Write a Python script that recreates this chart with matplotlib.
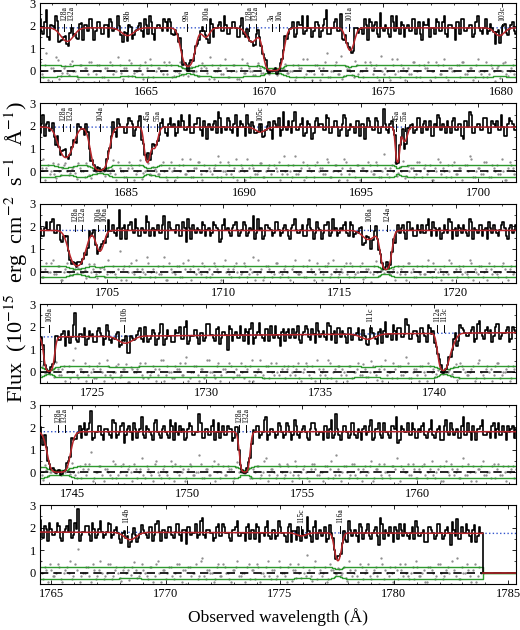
import numpy as np
import matplotlib
matplotlib.use('Agg')
import matplotlib.pyplot as plt

plt.rcParams['font.family'] = ['Liberation Serif', 'DejaVu Serif']
plt.rcParams['mathtext.fontset'] = 'stix'

# ---------------- data ----------------
panel_ranges = [(1660.5, 1680.6), (1681.3, 1701.6), (1702.1, 1722.6),
                (1722.7, 1743.6), (1743.6, 1764.3), (1764.5, 1785.35)]
panel_ticks = [[1665, 1670, 1675, 1680], [1685, 1690, 1695, 1700],
               [1705, 1710, 1715, 1720], [1725, 1730, 1735, 1740],
               [1745, 1750, 1755, 1760], [1765, 1770, 1775, 1780, 1785]]
continuum = [(1.9, 1.9), (1.95, 1.95), (1.82, 1.82), (1.55, 1.74), (1.8, 1.8), (1.8, 1.74)]

# absorption components per panel: centre (A), optical depth, width (A)
line_centers = [[1661.65, 1664.2, 1666.75, 1667.5, 1669.45, 1670.35, 1673.6, 1679.9],
                [1682.4, 1683.85, 1685.88, 1686.18, 1690.7, 1696.55, 1696.85],
                [1703.7, 1704.68, 1716.25, 1717.0],
                [1723.1, 1726.45, 1737.1, 1740.4, 1740.65],
                [1744.42, 1752.5],
                [1768.45, 1775.95, 1777.55]]
line_tau = [[0.38, 0.2, 2.3, 0.25, 0.4, 6.0, 0.75, 0.2],
            [1.18, 4.0, 1.6, 0.65, 0.12, 1.6, 0.4],
            [2.0, 0.7, 0.25, 3.0],
            [4.0, 0.22, 0.15, 3.0, 0.6],
            [6.0, 5.0],
            [0.2, 0.08, 1.2]]
line_sigma = [[0.25, 0.25, 0.2, 0.15, 0.2, 0.22, 0.15, 0.2],
              [0.25, 0.22, 0.1, 0.12, 0.2, 0.07, 0.1],
              [0.25, 0.15, 0.25, 0.15],
              [0.13, 0.3, 0.3, 0.14, 0.2],
              [0.25, 0.12],
              [0.25, 0.2, 0.12]]

# identified-line labels per panel
label_waves = [[1661.52, 1661.8, 1664.2, 1666.7, 1667.5, 1669.32, 1669.6, 1670.3, 1670.6, 1673.55, 1680.0],
               [1682.3, 1682.6, 1683.85, 1685.9, 1686.3, 1690.7, 1696.5, 1696.85],
               [1703.62, 1703.92, 1704.6, 1704.88, 1716.3, 1717.05],
               [1723.1, 1726.4, 1737.2, 1740.15, 1740.45],
               [1744.38, 1744.67, 1752.25, 1752.55],
               [1768.3, 1775.95, 1777.65]]
label_names = [['128a', '132a', '98b', '99a', '100a', '128a', '132a', '3a', '10a', '101a', '103c'],
               ['128a', '132a', '104a', '45a', '55a', '105c', '45a', '55a'],
               ['128a', '132a', '100a', '106a', '108a', '124a'],
               ['109a', '110b', '111c', '112a', '113c'],
               ['128a', '132a', '128a', '132a'],
               ['114b', '115c', '116a']]

# flux departures from the model (even pixels "a", odd pixels "b"), in noise units
noise_a_p1 = [3,-2,6,-4,1,5,-3,-1,2,-2,4,0,-3,2,1,-1,3,-4,2,0,
              -2,1,3,-1,0,2,-3,1,4,-2,0,1,-1,3,-2,2,-4,1,0,3,
              -1,2,-2,0,4,-3,1,2,-1,0,-2,3,1,-3,2,0,1,-1,4,-2,
              0,2,-3,1,-1,3,0,-2,2,1,-1,5,-3,0,2,-2,1,3,-1,0,
              -3,2,1,-2,4,0,-1,2,-3,1,6,-2,0,3,-1,-3,2,1,-2,4,
              -1,0,3,-4,2,1,-2,5,-1,0,-3,2,4,-2,1,0,-1,3,-2,2,
              -4,1,3,0,-2,2,-1,4,-3,1,0,2,-2,3,-1,1,-3,2,0,-2,
              3,-1,1,-4,2,0,3,-2,1,-1]
noise_b_p1 = [-1,2,-3,1,0,4,-2,1,-1,3,0,-2,2,-4,1,3,0,-1,2,-2,
              1,-3,2,0,5,-1,1,-2,3,-1,0,2,-3,1,4,-2,0,1,-1,2,
              3,-2,0,-1,2,1,-4,3,0,-2,1,2,-1,5,-3,0,2,-1,1,-2,
              2,0,-3,4,-1,1,0,-2,3,-1,2,-2,0,1,-4,3,1,-1,0,2,
              -2,1,4,-1,0,-3,2,1,-1,3,-2,0,2,-1,5,-2,1,0,-3,2,
              0,-2,1,3,-1,2,-3,0,1,-2,4,-1,0,2,-3,1,-1,3,0,-2,
              2,1,-3,0,3,-1,2,-2,1,0,-4,2,3,-1,0,1,-2,4,-1,0,
              -2,2,0,1,-3,3,-1,0,2,-2]
noise_a_p2 = [-2,4,1,-1,3,-3,0,2,5,-2,1,-1,3,0,-2,2,-4,1,3,-1,
              0,2,-1,4,-3,1,0,-2,3,1,-1,2,-3,0,6,-2,1,-1,2,0,
              -3,3,1,-2,0,2,-1,4,-2,1,3,-3,0,1,-1,2,5,-2,0,3,
              -1,1,-3,2,0,4,-2,1,-1,3,-2,0,2,-4,1,3,-1,0,2,-2,
              5,-1,1,-3,2,0,-2,3,1,-1,4,-2,0,2,-3,1,3,-1,0,-2,
              2,1,-4,3,0,-1,2,-2,6,-1,1,0,-3,2,4,-2,0,1,-1,3,
              -2,2,0,-3,1,4,-1,0,2,-2,3,-1,1,-4,2,5,-2,0,1,-1,
              3,-2,2,0,-1,4,-3,1,2,-1]
noise_b_p2 = [1,-3,2,0,-1,3,-2,4,0,-1,2,-3,1,0,3,-2,1,-1,2,0,
              -4,2,1,-1,3,0,-2,1,2,-3,0,4,-1,1,-2,2,0,-1,3,-2,
              1,0,-3,2,4,-1,0,-2,1,3,-1,2,-4,0,1,-2,3,0,-1,2,
              -2,4,0,1,-3,1,2,-1,0,3,-2,1,-1,2,0,-3,5,-1,0,2,
              -1,0,3,-2,1,-4,2,0,1,-1,3,-2,2,0,-1,4,-3,1,0,2,
              -3,1,0,2,-1,3,-2,0,1,-2,2,4,-1,0,-3,2,1,-2,3,0,
              1,-1,2,-3,0,3,1,-2,0,2,-1,1,-3,2,0,4,-2,1,-1,3,
              0,-2,1,2,-1,0,-3,3,1,-1]
noise_a_p3 = [1,-2,3,0,4,-1,2,-3,1,0,-2,2,3,-1,1,-2,0,3,-3,2,
              1,-1,0,2,-2,7,1,-3,2,0,4,-2,1,-1,3,0,-2,2,-1,5,
              -3,1,0,2,-2,3,-4,1,2,-1,0,3,-2,1,-1,2,0,-3,4,1,
              -2,2,0,-1,3,-2,1,5,-1,0,-3,2,1,-2,3,0,-1,2,-2,1,
              4,-1,0,-2,2,1,-3,3,0,-1,2,-2,4,1,-1,0,3,-2,2,-1,
              0,3,-2,1,-4,2,0,1,-1,6,-2,1,0,-1,2,-3,3,1,-2,0,
              2,-1,4,-2,1,0,-3,2,-1,3,0,-2,1,2,-1,4,-3,0,2,-2,
              1,3,-1,0,-2,2,1,-3,2,0]
noise_b_p3 = [-2,1,0,3,-1,2,-3,0,4,-2,1,-1,2,0,-3,3,1,-1,0,2,
              -2,4,0,-1,1,-3,2,0,3,-1,1,-2,0,5,-2,1,0,-1,2,-3,
              3,0,-1,2,-2,1,4,-3,0,1,-1,2,0,-2,3,1,-4,2,0,-1,
              1,3,-2,0,2,-1,0,-3,4,1,-2,2,0,-1,3,-2,1,0,-3,2,
              0,-1,2,-2,4,0,-1,1,-3,2,3,-1,0,-2,1,2,-1,3,-2,0,
              2,-3,1,0,-1,4,-2,1,2,-1,0,-3,2,1,-1,3,0,-2,2,-1,
              -1,2,0,3,-2,1,-1,0,4,-3,1,2,-1,0,-2,3,1,-1,2,0,
              -3,1,2,-1,0,3,-2,1,-1,2]
noise_a_p4 = [-1,3,0,-2,2,4,-1,1,-3,2,0,8,-2,1,3,-1,0,-2,2,1,
              -3,4,-1,0,2,-2,1,3,-4,1,0,2,-1,3,-2,0,1,-1,4,-3,
              2,0,-2,1,3,-1,5,-2,0,2,-3,1,-1,4,0,-2,3,-1,1,-5,
              2,0,-1,3,-2,1,2,-3,0,4,-1,2,-2,0,3,-1,1,-2,2,0,
              -1,3,-3,1,2,-2,0,4,-1,1,-2,3,0,-3,2,1,-1,2,-2,0,
              3,-1,1,-2,4,0,-3,2,1,-1,0,3,-2,2,-1,5,-2,0,1,-3,
              2,-1,3,0,-2,1,4,-1,0,-2,2,-3,3,1,-1,0,2,-2,4,-1,
              1,0,-3,2,3,-1,0,2,-2,1]
noise_b_p4 = [2,-1,0,3,-3,1,-1,2,0,-2,4,-1,1,0,-3,2,1,-2,3,0,
              -1,2,-2,0,3,-1,1,-4,2,0,1,3,-2,0,-1,2,-3,1,4,-1,
              0,-2,2,1,-1,3,-3,0,2,-1,1,-2,4,0,-1,2,-3,1,0,3,
              -2,1,-1,0,2,-3,4,-1,1,0,-2,2,3,-1,0,-4,2,1,-1,2,
              1,-2,0,3,-1,2,-3,1,0,-1,4,-2,1,2,-1,0,-3,2,0,1,
              -1,3,-2,0,2,-1,1,-3,4,0,-2,1,2,-1,0,3,-2,1,-1,2,
              0,-3,2,1,-1,4,-2,0,1,-1,3,-2,2,0,-1,1,-3,3,0,-2,
              2,1,-1,3,-2,0,1,-3,2,0]
noise_a_p5 = [2,-3,1,0,3,-1,2,-2,0,1,4,-1,0,-2,3,1,7,-2,0,2,
              -3,1,-1,4,-2,0,3,-1,2,-3,1,0,5,-2,1,-1,3,0,-2,2,
              -1,4,-3,0,2,1,-2,3,-1,0,6,-2,1,-1,2,-3,3,0,-1,2,
              1,-2,4,0,-1,3,-3,1,2,-2,0,5,-1,1,-2,3,0,-1,2,-3,
              4,-1,0,2,-2,1,3,-1,0,-3,2,1,-2,6,-1,0,2,-2,3,-1,
              1,-3,2,0,4,-2,1,-1,3,0,-2,2,5,-3,1,0,-1,3,-2,1,
              2,-1,0,4,-2,1,-3,2,0,3,-1,1,-2,5,-1,0,2,-3,1,4,
              -1,0,2,-2,3,-1,0,2,1,-2]
noise_b_p5 = [-1,3,-2,0,2,1,-3,1,4,-1,0,-2,2,1,-1,3,-3,0,2,-1,
              1,0,-2,3,-1,2,-4,1,0,3,-2,1,-1,2,0,-3,4,-1,1,0,
              -2,2,3,-1,0,-3,1,2,-1,0,3,-2,1,-1,4,0,-2,2,-1,1,
              -3,2,0,1,-1,3,-2,0,2,-1,4,-3,1,0,-1,2,-2,3,0,-1,
              2,-2,1,0,-3,3,1,-1,0,2,-2,4,-1,1,-3,2,0,-1,3,-2,
              0,1,-1,2,-3,1,3,-2,0,-1,2,1,-4,2,0,3,-1,1,-2,0,
              3,-2,1,-1,0,2,-3,4,-1,1,0,-2,2,-1,3,-3,0,1,2,-1,
              0,-2,3,1,-1,2,-3,0,2,1]
noise_a_p6 = [4,-2,1,3,-1,0,2,-3,1,0,-2,3,8,-1,0,2,-3,1,-1,4,
              -2,0,3,-1,2,-2,1,0,-3,2,1,-1,3,0,-2,2,-1,4,-3,1,
              0,2,-2,3,-1,1,-4,2,0,3,-1,5,-2,1,0,-2,3,-1,2,0,
              -3,1,4,-1,0,2,-2,1,3,-3,0,2,-1,1,-2,4,0,-1,2,-3,
              1,3,-2,0,6,-1,2,-2,1,0,-3,3,1,-1,2,0,-2,4,-1,1,
              -3,2,0,3,-2,1,-1,5,-2,0,2,-3,1,3,-1,0,-2,2,4,-1,
              0,-3,2,1,-2,3,0,-1,2,-4,1,5,-2,0,3,-1,1,-3,2,0,
              -2,3,1,-1,0,2,-3,4,-1,1]
noise_b_p6 = [0,2,-3,1,-1,3,-2,0,2,4,-1,1,-3,0,2,-1,3,-2,1,0,
              -1,3,-2,1,0,-3,2,1,-1,4,-2,0,1,-1,2,-3,3,0,1,-2,
              2,-1,0,3,-3,1,2,-1,0,-2,4,-1,1,0,-3,2,-1,3,0,-2,
              1,2,-1,0,-3,3,1,-2,2,0,-1,4,-2,1,-1,2,0,-3,3,1,
              -2,0,2,-1,1,-3,4,0,-1,2,-2,1,0,3,-1,2,-3,1,0,-1,
              3,-2,1,-1,0,2,-4,3,1,-1,0,2,-2,1,3,-1,0,-2,2,-1,
              1,-3,2,0,-1,3,-2,1,0,4,-1,-2,2,0,1,-3,3,-1,0,2,
              -1,1,-2,3,0,-1,2,-3,1,0]
noise_a_all = [noise_a_p1, noise_a_p2, noise_a_p3, noise_a_p4, noise_a_p5, noise_a_p6]
noise_b_all = [noise_b_p1, noise_b_p2, noise_b_p3, noise_b_p4, noise_b_p5, noise_b_p6]
noise_unit = 0.13
data_end = 1783.9
err_floor, err_scale = 0.1, 0.09

# ---------------- figure ----------------
fig = plt.figure(figsize=(5.2, 6.3), dpi=100)
W, H = 520.0, 630.0
left_px, right_px = 40, 516
ax_h = 79
red = '#b8262b'
green = '#2e9a2e'

for i in range(6):
    top = 3 + 100.4 * i
    ax = fig.add_axes([left_px / W, 1 - (top + ax_h) / H, (right_px - left_px) / W, ax_h / H])
    x0, x1 = panel_ranges[i]
    na = np.array(noise_a_all[i], dtype=float)
    nb = np.array(noise_b_all[i], dtype=float)
    noise = np.empty(na.size + nb.size)
    noise[0::2] = na
    noise[1::2] = nb
    noise *= noise_unit
    n = len(noise)
    wav = np.linspace(x0, x1, n)
    fine = np.linspace(x0, x1, 1500)

    def model_at(w):
        c = continuum[i][0] + (continuum[i][1] - continuum[i][0]) * (w - x0) / (x1 - x0)
        tau = np.zeros_like(w)
        for cen, t, s in zip(line_centers[i], line_tau[i], line_sigma[i]):
            tau += t * np.exp(-0.5 * ((w - cen) / s) ** 2)
        return c, c * np.exp(-tau)

    cont_f, mod_f = model_at(fine)
    cont_d, mod_d = model_at(wav)
    flux = mod_d + noise * (0.35 + 0.65 * mod_d / cont_d)
    err = err_floor + err_scale * mod_d
    resid = flux - mod_d
    if i == 5:
        mask_d = wav > data_end
        flux[mask_d] = 0
        err[mask_d] = 0
        resid[mask_d] = np.nan
        mod_f = np.where(fine > data_end, np.nan, mod_f)
        ax.plot([data_end, x1], [0, 0], color=red, lw=1.1, zorder=4)

    ax.plot(fine, cont_f, color='#3355cc', ls=':', lw=1.0, zorder=1)
    ax.plot(wav, resid, ls='none', marker='.', ms=1.3, color='#8a8a8a', zorder=1)
    ax.axhline(0, color='black', ls=(0, (5, 3)), lw=1.2, zorder=2)
    ax.step(wav, err, where='mid', color=green, lw=1.0, zorder=2)
    ax.step(wav, -err, where='mid', color=green, lw=1.0, zorder=2)
    ax.step(wav, flux, where='mid', color='black', lw=1.2, zorder=3)
    ax.plot(fine, mod_f, color=red, lw=1.1, zorder=4)

    for lw_, name in zip(label_waves[i], label_names[i]):
        ax.plot([lw_, lw_], [1.78, 2.08], color='black', lw=0.7, zorder=5)
        ax.text(lw_, 2.2, name, rotation=90, ha='center', va='bottom', fontsize=5.5, zorder=5)

    ax.set_xlim(x0, x1)
    ax.set_ylim(-0.5, 3.0)
    ax.set_xticks(panel_ticks[i])
    ax.set_xticks(np.arange(np.ceil(x0), x1, 1.0), minor=True)
    ax.set_yticks([0, 1, 2, 3])
    ax.set_yticks([-0.5, 0.5, 1.5, 2.5], minor=True)
    ax.tick_params(direction='in', top=True, right=True, labelsize=9, length=3, width=0.6, pad=3)
    ax.tick_params(which='minor', direction='in', top=True, right=True, length=1.5, width=0.5)
    for sp in ax.spines.values():
        sp.set_linewidth(0.8)

fig.text(278 / W, 1 - 617 / H, 'Observed wavelength (Å)', ha='center', va='center', fontsize=12.5)
fig.text(16 / W, 1 - 252 / H,
         'Flux  (10$^{-15}$  erg  cm$^{-2}$  s$^{-1}$  Å$^{-1}$)', rotation=90,
         ha='center', va='center', fontsize=16)

fig.savefig('out.png', dpi=100)
